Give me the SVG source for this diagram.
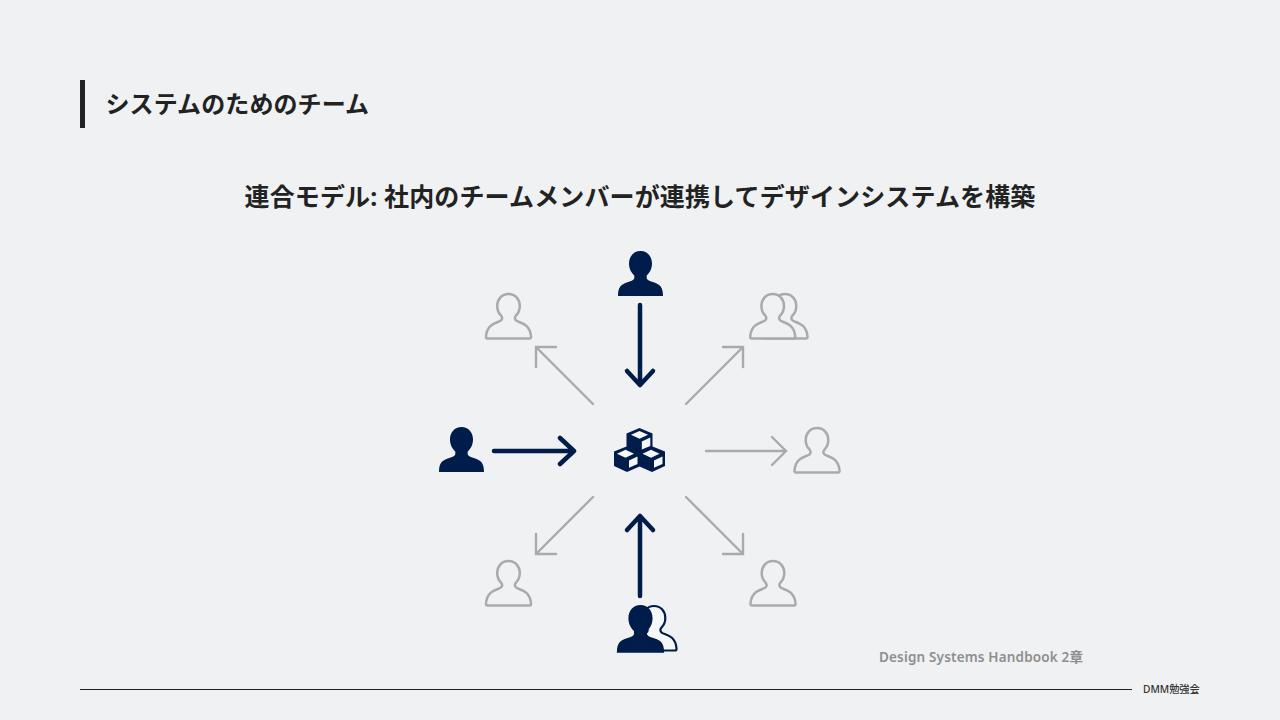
<svg xmlns="http://www.w3.org/2000/svg" width="1280" height="720" viewBox="0 0 1280 720">
<style>
text{font-family:"Noto Sans","Noto Sans CJK JP",sans-serif}
.t{font-weight:700;fill:#222}
.g{fill:#eff1f3;stroke:#aaa;stroke-width:2.5;stroke-linecap:round;stroke-linejoin:round}
.gl{fill:none;stroke:#aaa;stroke-width:2.4;stroke-linecap:round;stroke-linejoin:miter}
.n{fill:none;stroke:#001c4a;stroke-width:4.5;stroke-linecap:round;stroke-linejoin:round}
.d{fill:#001c4a;stroke:none}
.b{fill:#f6f7f8;stroke:#001c4a;stroke-width:2.2;stroke-linejoin:round}
</style>
<defs>
<path id="p" d="M0-23.500C7-23.500 11.500-18 11.500-11C11.500-5.500 9-1.500 6.200 1L6.200 4C7 6 10 6.800 13 7.800C19 9.800 22.500 12 22.500 21.500L-22.500 21.500C-22.500 12-19 9.800-13 7.800C-10 6.800-7 6-6.200 4L-6.200 1C-9-1.500-11.500-5.500-11.500-11C-11.500-18-7-23.500 0-23.500Z"/>
<path id="o" d="M0-23C7-23 11.300-17.500 11.300-11C11.300-6 9.500-3.500 7.500-1.500C5.800 .5 6 2.500 8 3.800C11 5.800 21.500 6 22.500 19.500Q22.700 21.500 21 21.500L-21 21.500Q-22.700 21.500-22.500 19.500C-21.500 6-11 5.800-8 3.800C-6 2.500-5.800 .5-7.500-1.500C-9.500-3.500-11.300-6-11.300-11C-11.300-17.500-7-23 0-23Z"/>
</defs>
<rect width="1280" height="720" fill="#eff1f3"/>
<g id="header">
<rect x="80" y="80" width="5" height="48" fill="#222"/>
<text x="105.500" y="113" class="t" font-size="24" letter-spacing=".1">システムのためのチーム</text>
</g>
<text id="subtitle" x="640" y="206" class="t" font-size="25" text-anchor="middle" letter-spacing=".14">連合モデル: 社内のチームメンバーが連携してデザインシステムを構築</text>
<g id="connectors">
<path class="n" d="M640 305V384M627 371L640 385L653 371"/>
<path class="n" d="M494 451H573M560 438L574 451L560 464"/>
<path class="n" d="M640 596V517M627 530L640 516L653 530"/>
<path class="gl" d="M593 404L536 347M536 367V347H556"/>
<path class="gl" d="M686 404L743 347M723 347H743V367"/>
<path class="gl" d="M706 451H785M772 437L786 451L772 465"/>
<path class="gl" d="M593 497L536 554M536 534V554H556"/>
<path class="gl" d="M686 497L743 554M743 534V554H723"/>
</g>
<g id="user-top"><use href="#p" class="d" transform="translate(640.500 274.500)"/></g>
<g id="user-left"><use href="#p" class="d" transform="translate(461.500 450.500)"/></g>
<g id="user-topleft"><use href="#o" class="g" transform="translate(508.500 317)"/></g>
<g id="user-right"><use href="#o" class="g" transform="translate(817 451)"/></g>
<g id="user-bottomleft"><use href="#o" class="g" transform="translate(508.500 584)"/></g>
<g id="user-bottomright"><use href="#o" class="g" transform="translate(773 584)"/></g>
<g id="users-topright">
<use href="#o" class="g" transform="translate(785 317)"/>
<use href="#o" class="g" transform="translate(772.700 317)"/>
</g>
<g id="users-bottom">
<use href="#o" class="b" transform="translate(654 629) scale(1 1)"/>
<use href="#p" class="d" transform="translate(640.500 630) scale(1.050 1.060)"/>
</g>
<g id="blocks">
<path class="d" d="M639.500 428L652.500 433.500V446.500L665 451.500V466L652 472L639.500 466.500L627 472L614 466V451.500L626.500 446.500V433.500Z"/>
<path d="M639.500 431L648 434.800L639.500 438.800L631 434.800ZM650.300 437.500V446L641.800 449.500V441.500ZM625.500 449.800L634 453.800L625.500 457.800L617 453.800ZM651 449.800L659.500 453.800L651 457.800L642.500 453.800ZM637.500 456.500V464L629 467.800V460.500ZM662.500 456.500V464L654 467.800V460.500Z" fill="#f6f7f8"/>
</g>
<text id="source" x="879" y="662" font-size="13.500" font-weight="600" fill="#8e8e8e" letter-spacing=".17">Design Systems Handbook 2章</text>
<g id="footer">
<line x1="80" y1="689.500" x2="1132" y2="689.500" stroke="#222" stroke-width="1"/>
<text x="1143" y="693" font-size="10.200" font-weight="500" fill="#333">DMM勉強会</text>
</g>
</svg>
